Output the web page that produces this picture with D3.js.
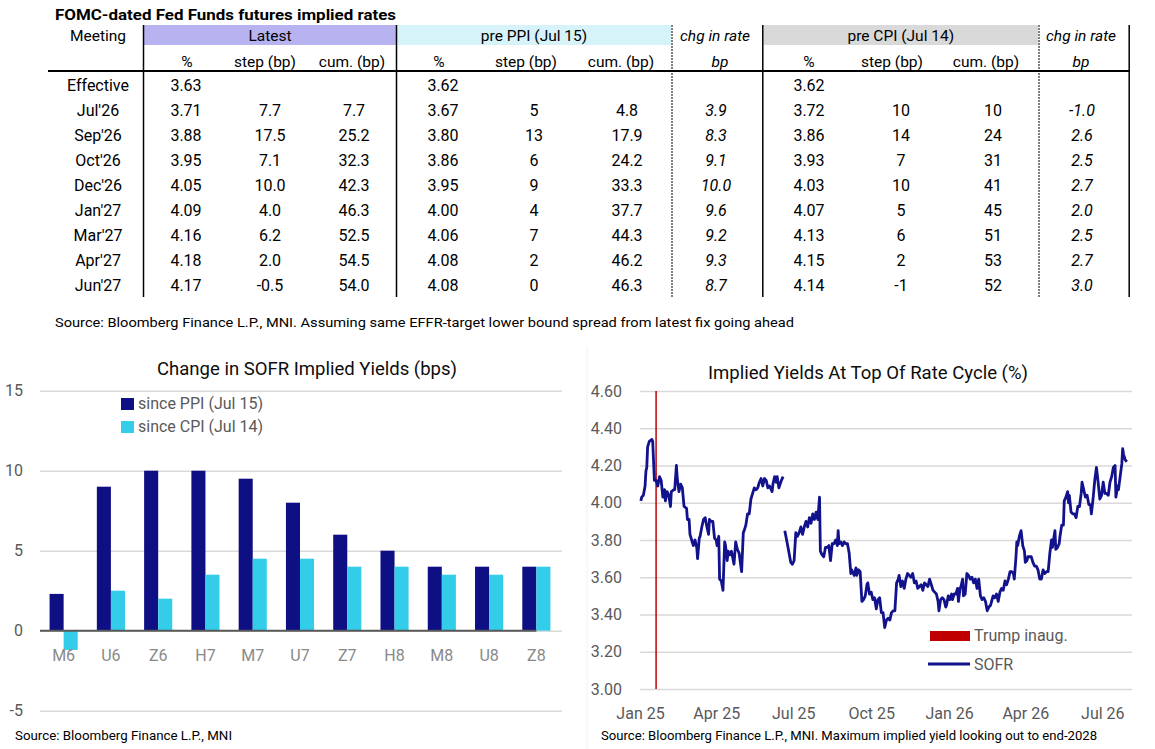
<!DOCTYPE html>
<html>
<head>
<meta charset="utf-8">
<script src="https://cdn.jsdelivr.net/npm/d3@7"></script>
<style>
  body { margin: 0; background: #fff; }
  svg { display: block; }
  text { font-family: Roboto, "Liberation Sans", sans-serif; }
</style>
</head>
<body>
<svg id="chart" width="1155" height="749"></svg>
<script>
// ---------------- table data ----------------
const tableTitle = "FOMC-dated Fed Funds futures implied rates";
const meetings = ["Effective", "Jul'26", "Sep'26", "Oct'26", "Dec'26", "Jan'27", "Mar'27", "Apr'27", "Jun'27"];
const groupHeaders = ["Latest", "pre PPI (Jul 15)", "pre CPI (Jul 14)"];
const subHeaders = ["%", "step (bp)", "cum. (bp)"];
const chgHeaders = ["chg in rate", "bp"];

const latestPct  = [3.63, 3.71, 3.88, 3.95, 4.05, 4.09, 4.16, 4.18, 4.17];
const latestStep = [null, 7.7, 17.5, 7.1, 10.0, 4.0, 6.2, 2.0, -0.5];
const latestCum  = [null, 7.7, 25.2, 32.3, 42.3, 46.3, 52.5, 54.5, 54.0];
const ppiPct  = [3.62, 3.67, 3.80, 3.86, 3.95, 4.00, 4.06, 4.08, 4.08];
const ppiStep = [null, 5, 13, 6, 9, 4, 7, 2, 0];
const ppiCum  = [null, 4.8, 17.9, 24.2, 33.3, 37.7, 44.3, 46.2, 46.3];
const ppiChg  = [null, 3.9, 8.3, 9.1, 10.0, 9.6, 9.2, 9.3, 8.7];
const cpiPct  = [3.62, 3.72, 3.86, 3.93, 4.03, 4.07, 4.13, 4.15, 4.14];
const cpiStep = [null, 10, 14, 7, 10, 5, 6, 2, -1];
const cpiCum  = [null, 10, 24, 31, 41, 45, 51, 53, 52];
const cpiChg  = [null, -1.0, 2.6, 2.5, 2.7, 2.0, 2.5, 2.7, 3.0];
const tableSource = "Source: Bloomberg Finance L.P., MNI. Assuming same  EFFR-target lower bound spread from latest fix going ahead";

// ---------------- bar chart data ----------------
const barTitle = "Change in SOFR Implied Yields (bps)";
const contracts = ["M6", "U6", "Z6", "H7", "M7", "U7", "Z7", "H8", "M8", "U8", "Z8"];
const barSeries = ["since PPI (Jul 15)", "since CPI (Jul 14)"];
const sincePPI = [2.3, 9.0, 10.0, 10.0, 9.5, 8.0, 6.0, 5.0, 4.0, 4.0, 4.0];
const sinceCPI = [-1.2, 2.5, 2.0, 3.5, 4.5, 4.5, 4.0, 4.0, 3.5, 3.5, 4.0];
const barTicks = [-5, 0, 5, 10, 15];
const barSource = "Source: Bloomberg Finance L.P., MNI";

// ---------------- line chart data ----------------
const lineTitle = "Implied Yields At Top Of Rate Cycle (%)";
const yieldTicks = [3.0, 3.2, 3.4, 3.6, 3.8, 4.0, 4.2, 4.4, 4.6];
const dateTicks = ["2025-01-01", "2025-04-01", "2025-07-01", "2025-10-01", "2026-01-01", "2026-04-01", "2026-07-01"];
const trumpInaug = "2025-01-20";
const lineLegend = ["Trump inaug.", "SOFR"];
const lineSource = "Source: Bloomberg Finance L.P., MNI. Maximum implied yield looking out to end-2028";

const sofrDates = [
  "2025-01-02","2025-01-03","2025-01-05","2025-01-07","2025-01-08","2025-01-09","2025-01-10","2025-01-12","2025-01-15","2025-01-16","2025-01-18","2025-01-20","2025-01-22","2025-01-24","2025-01-26","2025-01-28","2025-01-30","2025-01-31",
  "2025-02-02","2025-02-04","2025-02-06","2025-02-07","2025-02-10","2025-02-11","2025-02-13","2025-02-14","2025-02-16","2025-02-18","2025-02-20","2025-02-22","2025-02-25","2025-02-26","2025-02-28",
  "2025-03-01","2025-03-03","2025-03-05","2025-03-07","2025-03-09","2025-03-10","2025-03-12","2025-03-13","2025-03-15","2025-03-17","2025-03-19","2025-03-21","2025-03-23","2025-03-24","2025-03-26","2025-03-28","2025-03-30",
  "2025-04-01","2025-04-02","2025-04-04","2025-04-05","2025-04-07","2025-04-09","2025-04-11","2025-04-12","2025-04-14","2025-04-15","2025-04-17","2025-04-19","2025-04-22","2025-04-24","2025-04-26","2025-04-28",
  "2025-05-01","2025-05-03","2025-05-04","2025-05-06","2025-05-08","2025-05-10","2025-05-12","2025-05-14","2025-05-16","2025-05-18","2025-05-20","2025-05-22","2025-05-24","2025-05-26","2025-05-28","2025-05-30",
  "2025-06-01","2025-06-03","2025-06-06","2025-06-07","2025-06-09","2025-06-11","2025-06-12","2025-06-14","2025-06-17","2025-06-19","2025-06-20","2025-06-21","2025-06-24","2025-06-26","2025-06-28","2025-06-30",
  "2025-07-02","2025-07-04","2025-07-06","2025-07-08","2025-07-10","2025-07-12","2025-07-14","2025-07-16","2025-07-18","2025-07-20","2025-07-22","2025-07-24","2025-07-26","2025-07-28","2025-07-30",
  "2025-08-01","2025-08-02","2025-08-04","2025-08-06","2025-08-08","2025-08-10","2025-08-12","2025-08-14","2025-08-16","2025-08-18","2025-08-20","2025-08-22","2025-08-23","2025-08-24","2025-08-26","2025-08-28","2025-08-30",
  "2025-09-01","2025-09-03","2025-09-05","2025-09-07","2025-09-08","2025-09-11","2025-09-13","2025-09-14","2025-09-16","2025-09-18","2025-09-20","2025-09-22","2025-09-24","2025-09-26","2025-09-27","2025-09-29",
  "2025-10-01","2025-10-03","2025-10-05","2025-10-07","2025-10-09","2025-10-11","2025-10-13","2025-10-15","2025-10-17","2025-10-19","2025-10-21","2025-10-23","2025-10-25","2025-10-27","2025-10-29","2025-10-31",
  "2025-11-02","2025-11-03","2025-11-05","2025-11-07","2025-11-09","2025-11-11","2025-11-13","2025-11-15","2025-11-17","2025-11-19","2025-11-21","2025-11-23","2025-11-25","2025-11-27","2025-11-29",
  "2025-12-01","2025-12-03","2025-12-05","2025-12-07","2025-12-09","2025-12-11","2025-12-13","2025-12-15","2025-12-17","2025-12-19","2025-12-20","2025-12-22","2025-12-24","2025-12-26","2025-12-28","2025-12-29","2025-12-31",
  "2026-01-02","2026-01-04","2026-01-05","2026-01-07","2026-01-09","2026-01-11","2026-01-12","2026-01-14","2026-01-15","2026-01-17","2026-01-18","2026-01-20","2026-01-22","2026-01-24","2026-01-26","2026-01-28","2026-01-30",
  "2026-02-01","2026-02-03","2026-02-05","2026-02-07","2026-02-09","2026-02-11","2026-02-13","2026-02-15","2026-02-17","2026-02-19","2026-02-22","2026-02-24","2026-02-26","2026-02-28",
  "2026-03-02","2026-03-04","2026-03-06","2026-03-08","2026-03-10","2026-03-12","2026-03-14","2026-03-16","2026-03-18","2026-03-19","2026-03-21","2026-03-22","2026-03-23","2026-03-25","2026-03-27","2026-03-29","2026-03-31",
  "2026-04-01","2026-04-03","2026-04-04","2026-04-06","2026-04-08","2026-04-10","2026-04-12","2026-04-14","2026-04-16","2026-04-18","2026-04-20","2026-04-22","2026-04-24","2026-04-26","2026-04-28","2026-04-30",
  "2026-05-02","2026-05-03","2026-05-05","2026-05-06","2026-05-07","2026-05-09","2026-05-11","2026-05-12","2026-05-14","2026-05-16","2026-05-17","2026-05-19","2026-05-21","2026-05-22","2026-05-23","2026-05-25","2026-05-27","2026-05-29","2026-05-31",
  "2026-06-02","2026-06-04","2026-06-06","2026-06-07","2026-06-09","2026-06-11","2026-06-13","2026-06-15","2026-06-17","2026-06-18","2026-06-20","2026-06-22","2026-06-24","2026-06-26","2026-06-28","2026-06-30",
  "2026-07-02","2026-07-04","2026-07-06","2026-07-08","2026-07-10","2026-07-12","2026-07-14","2026-07-16","2026-07-17","2026-07-19","2026-07-20","2026-07-22","2026-07-24","2026-07-25","2026-07-26","2026-07-28","2026-07-30"
];
const sofrValues = [
  4.01,4.03,4.04,4.09,4.17,4.19,4.30,4.33,4.34,4.33,4.12,4.12,4.09,4.14,4.12,4.03,4.07,4.01,
  4.06,4.04,3.98,4.06,4.07,4.07,4.20,4.13,4.06,4.10,4.08,3.98,3.97,3.91,3.91,
  3.83,3.80,3.77,3.80,3.76,3.70,3.81,3.82,3.87,3.91,3.92,3.87,3.83,3.91,3.90,3.90,3.81,
  3.80,3.77,3.82,3.59,3.58,3.53,3.79,3.77,3.69,3.74,3.72,3.74,3.67,3.79,3.75,3.73,
  3.63,3.84,3.85,3.88,3.94,3.94,4.02,4.05,4.08,4.07,4.08,4.11,4.13,4.09,4.13,4.12,
  4.08,4.09,4.06,4.10,4.14,4.11,4.14,4.08,4.12,4.14,null,3.85,3.78,3.73,3.68,3.67,
  3.69,3.84,3.82,3.84,3.87,3.83,3.87,3.90,3.87,3.92,3.89,3.94,3.91,3.95,3.91,
  4.03,3.74,3.72,3.71,3.76,3.76,3.77,3.69,3.78,3.78,3.80,3.77,3.85,3.78,3.79,3.77,3.79,
  3.78,3.78,3.73,3.62,3.64,3.61,3.65,3.61,3.64,3.63,3.47,3.48,3.50,3.56,3.57,3.51,
  3.52,3.48,3.49,3.43,3.48,3.49,3.41,3.41,3.33,3.37,3.38,3.37,3.41,3.42,3.42,3.57,
  3.59,3.61,3.55,3.58,3.54,3.59,3.62,3.61,3.60,3.62,3.57,3.58,3.54,3.55,3.56,
  3.53,3.57,3.56,3.55,3.59,3.56,3.53,3.52,3.51,3.47,3.42,3.48,3.49,3.48,3.44,3.45,3.50,
  3.48,3.51,3.48,3.51,3.51,3.54,3.47,3.54,3.55,3.59,3.50,3.51,3.62,3.61,3.59,3.60,3.57,
  3.59,3.54,3.59,3.50,3.48,3.49,3.47,3.42,3.44,3.45,3.50,3.49,3.51,3.47,
  3.52,3.54,3.53,3.58,3.56,3.59,3.63,3.63,3.62,3.59,3.71,3.79,3.77,3.82,3.85,3.77,3.74,
  3.68,3.69,3.71,3.71,3.71,3.68,3.66,3.66,3.64,3.59,3.59,3.64,3.62,3.63,3.63,3.73,
  3.80,3.76,3.82,3.85,3.75,3.76,3.78,3.82,3.88,3.88,4.01,4.03,4.06,4.00,4.04,3.95,3.94,3.94,3.92,
  3.98,3.98,4.05,4.11,4.07,4.03,4.04,3.99,3.99,3.94,4.02,4.12,4.19,4.11,4.02,4.04,
  4.11,4.05,4.05,4.04,4.11,4.14,4.19,4.20,4.03,4.09,4.07,4.14,4.21,4.29,4.26,4.23,4.22
];

const svg = d3.select("#chart");
const parseDate = d3.timeParse("%Y-%m-%d");
const fix = n => v => (v == null ? "" : v.toFixed(n));

// =============== TABLE ===============
const tbl = svg.append("g");

tbl.append("text")
  .attr("x", 55).attr("y", 20)
  .attr("font-size", 14.5).attr("font-weight", "bold")
  .attr("textLength", 341).attr("lengthAdjust", "spacingAndGlyphs")
  .text(tableTitle);

// coloured group header bands
const groups = [
  { label: groupHeaders[0], x0: 144, x1: 396, fill: "#b7b3f1" },
  { label: groupHeaders[1], x0: 397, x1: 671, fill: "#d5f3f9" },
  { label: groupHeaders[2], x0: 763.5, x1: 1038, fill: "#d9d9d9" }
];
tbl.selectAll("rect.band").data(groups).join("rect")
  .attr("x", d => d.x0).attr("y", 25)
  .attr("width", d => d.x1 - d.x0).attr("height", 20)
  .attr("fill", d => d.fill);
tbl.selectAll("text.group").data(groups).join("text")
  .attr("x", d => (d.x0 + d.x1) / 2).attr("y", 41)
  .attr("text-anchor", "middle").attr("font-size", 15.5)
  .text(d => d.label);

tbl.append("text").attr("x", 98).attr("y", 41)
  .attr("text-anchor", "middle").attr("font-size", 15.5).text("Meeting");
[715, 1081].forEach(x => {
  tbl.append("text").attr("x", x).attr("y", 41)
    .attr("text-anchor", "middle").attr("font-size", 15.5).attr("font-style", "italic")
    .text(chgHeaders[0]);
});

const columns = [
  { vals: latestPct,  fmt: fix(2), x: 186,  hx: 187, head: subHeaders[0] },
  { vals: latestStep, fmt: fix(1), x: 270,  hx: 265, head: subHeaders[1] },
  { vals: latestCum,  fmt: fix(1), x: 354,  hx: 352, head: subHeaders[2] },
  { vals: ppiPct,     fmt: fix(2), x: 443,  hx: 439, head: subHeaders[0] },
  { vals: ppiStep,    fmt: fix(0), x: 534,  hx: 526, head: subHeaders[1] },
  { vals: ppiCum,     fmt: fix(1), x: 627,  hx: 621, head: subHeaders[2] },
  { vals: ppiChg,     fmt: fix(1), x: 716,  hx: 720, head: chgHeaders[1], italic: true },
  { vals: cpiPct,     fmt: fix(2), x: 809,  hx: 809, head: subHeaders[0] },
  { vals: cpiStep,    fmt: fix(0), x: 901,  hx: 892, head: subHeaders[1] },
  { vals: cpiCum,     fmt: fix(0), x: 993,  hx: 986, head: subHeaders[2] },
  { vals: cpiChg,     fmt: fix(1), x: 1082, hx: 1081, head: chgHeaders[1], italic: true }
];

const rowY = d3.scalePoint().domain(meetings).range([90.7, 290.7]);

tbl.selectAll("text.sub").data(columns).join("text")
  .attr("x", d => d.hx).attr("y", 66.5)
  .attr("text-anchor", "middle").attr("font-size", 15.5)
  .attr("font-style", d => d.italic ? "italic" : "normal")
  .text(d => d.head);

tbl.selectAll("text.meeting").data(meetings).join("text")
  .attr("x", 98).attr("y", d => rowY(d))
  .attr("text-anchor", "middle").attr("font-size", 16)
  .text(d => d);

columns.forEach(col => {
  tbl.append("g").selectAll("text").data(col.vals).join("text")
    .attr("x", col.x).attr("y", (d, i) => rowY(meetings[i]))
    .attr("text-anchor", "middle").attr("font-size", 16)
    .attr("font-style", col.italic ? "italic" : "normal")
    .text(d => col.fmt(d));
});

// rules
tbl.append("line").attr("x1", 48).attr("x2", 1130).attr("y1", 71).attr("y2", 71)
  .attr("stroke", "#000").attr("stroke-width", 2);
tbl.selectAll("line.solid").data([143.5, 396.5, 762.8, 1129.2]).join("line")
  .attr("x1", d => d).attr("x2", d => d).attr("y1", 25).attr("y2", 297)
  .attr("stroke", "#000").attr("stroke-width", 1.5);
tbl.selectAll("line.dash").data([672, 1039]).join("line")
  .attr("x1", d => d).attr("x2", d => d).attr("y1", 25).attr("y2", 297)
  .attr("stroke", "#000").attr("stroke-width", 1).attr("stroke-dasharray", "2,1");

tbl.append("text").attr("x", 55).attr("y", 327).attr("font-size", 13)
  .attr("textLength", 739).attr("lengthAdjust", "spacingAndGlyphs")
  .text(tableSource);

// =============== BAR CHART ===============
const bar = svg.append("g");
const bx0 = d3.scaleBand().domain(contracts).range([40, 560]).paddingInner(0.405).paddingOuter(0.2025);
const bx1 = d3.scaleBand().domain(barSeries).range([0, bx0.bandwidth()]);
const by = d3.scaleLinear().domain([-5, 15]).range([710.7, 390.7]);
const barColor = d3.scaleOrdinal().domain(barSeries).range(["#0f0f84", "#33cdea"]);

bar.append("text").attr("x", 307).attr("y", 375)
  .attr("text-anchor", "middle").attr("font-size", 18).attr("fill", "#0d0d0d")
  .attr("textLength", 300).attr("lengthAdjust", "spacingAndGlyphs")
  .text(barTitle);

const barYAxis = bar.append("g").attr("transform", "translate(40,0)")
  .call(d3.axisLeft(by).tickValues(barTicks).tickSize(-522).tickPadding(17).tickFormat(d => String(d)));
barYAxis.select(".domain").remove();
barYAxis.selectAll("line").attr("stroke", "#d9d9d9").attr("stroke-width", 1.5);
barYAxis.selectAll("text").attr("font-size", 16).attr("fill", "#595959")
  .style("font-family", "Roboto, 'Liberation Sans', sans-serif");

const barRows = contracts.map((c, i) => ({ c, vals: [sincePPI[i], sinceCPI[i]] }));
bar.append("g").selectAll("g").data(barRows).join("g")
  .attr("transform", d => `translate(${bx0(d.c)},0)`)
  .selectAll("rect").data(d => barSeries.map((s, j) => ({ s, v: d.vals[j] }))).join("rect")
  .attr("x", d => bx1(d.s))
  .attr("width", bx1.bandwidth())
  .attr("y", d => by(Math.max(0, d.v)))
  .attr("height", d => Math.abs(by(d.v) - by(0)))
  .attr("fill", d => barColor(d.s));

// zero axis line
bar.append("line").attr("x1", 40).attr("x2", bx0("Z8") + bx1(barSeries[1]))
  .attr("y1", by(0)).attr("y2", by(0))
  .attr("stroke", "#595959").attr("stroke-width", 2);

const barXAxis = bar.append("g").attr("transform", `translate(0,${by(0)})`)
  .call(d3.axisBottom(bx0).tickSize(0).tickPadding(19));
barXAxis.select(".domain").remove();
barXAxis.selectAll("text").attr("font-size", 16).attr("fill", "#898989")
  .style("font-family", "Roboto, 'Liberation Sans', sans-serif");

// legend
const barLeg = bar.append("g");
barSeries.forEach((s, i) => {
  barLeg.append("rect").attr("x", 121).attr("y", 398 + i * 23).attr("width", 13).attr("height", 12)
    .attr("fill", barColor(s));
  barLeg.append("text").attr("x", 138).attr("y", 409 + i * 23)
    .attr("font-size", 16).attr("fill", "#595959")
    .attr("textLength", 125).attr("lengthAdjust", "spacingAndGlyphs")
    .text(s);
});

bar.append("text").attr("x", 15).attr("y", 740).attr("font-size", 13.5)
  .attr("textLength", 217).attr("lengthAdjust", "spacingAndGlyphs")
  .text(barSource);

// =============== LINE CHART ===============
const lc = svg.append("g");
lc.append("line").attr("x1", 587).attr("x2", 587).attr("y1", 346).attr("y2", 749)
  .attr("stroke", "#f2f2f2").attr("stroke-width", 1);

const lx = d3.scaleTime().domain([parseDate("2025-01-01"), parseDate("2026-08-05")]).range([640, 1132]);
const ly = d3.scaleLinear().domain([3.0, 4.6]).range([689, 391]);

lc.append("text").attr("x", 868).attr("y", 379)
  .attr("text-anchor", "middle").attr("font-size", 18).attr("fill", "#0d0d0d")
  .attr("textLength", 320).attr("lengthAdjust", "spacingAndGlyphs")
  .text(lineTitle);

const lineYAxis = lc.append("g").attr("transform", "translate(640,0)")
  .call(d3.axisLeft(ly).tickValues(yieldTicks).tickSize(-492).tickPadding(18).tickFormat(d3.format(".2f")));
lineYAxis.select(".domain").remove();
lineYAxis.selectAll("line").attr("stroke", "#d9d9d9").attr("stroke-width", 1.5);
lineYAxis.selectAll("text").attr("font-size", 16).attr("fill", "#595959")
  .style("font-family", "Roboto, 'Liberation Sans', sans-serif");

const lineXAxis = lc.append("g").attr("transform", "translate(0,689)")
  .call(d3.axisBottom(lx).tickValues(dateTicks.map(parseDate)).tickSize(0).tickPadding(19)
    .tickFormat(d3.timeFormat("%b %y")));
lineXAxis.select(".domain").remove();
lineXAxis.selectAll("text").attr("font-size", 16).attr("fill", "#595959")
  .style("font-family", "Roboto, 'Liberation Sans', sans-serif");

// inauguration marker
lc.append("line")
  .attr("x1", lx(parseDate(trumpInaug))).attr("x2", lx(parseDate(trumpInaug)))
  .attr("y1", ly(4.6)).attr("y2", ly(3.0))
  .attr("stroke", "#c00000").attr("stroke-width", 1.5);

const sofr = sofrDates.map((d, i) => ({ date: parseDate(d), v: sofrValues[i] }));
const sofrLine = d3.line()
  .defined(d => d.v != null)
  .x(d => lx(d.date))
  .y(d => ly(d.v));
lc.append("path").datum(sofr)
  .attr("d", sofrLine)
  .attr("fill", "none").attr("stroke", "#12128c").attr("stroke-width", 2.8)
  .attr("stroke-linejoin", "round");

// legend
lc.append("rect").attr("x", 930).attr("y", 631).attr("width", 40).attr("height", 10).attr("fill", "#c00000");
lc.append("text").attr("x", 974).attr("y", 641).attr("font-size", 16).attr("fill", "#595959").text(lineLegend[0]);
lc.append("line").attr("x1", 928).attr("x2", 970).attr("y1", 664).attr("y2", 664)
  .attr("stroke", "#12128c").attr("stroke-width", 3);
lc.append("text").attr("x", 974).attr("y", 670).attr("font-size", 16).attr("fill", "#595959").text(lineLegend[1]);

lc.append("text").attr("x", 601).attr("y", 740).attr("font-size", 13.5)
  .attr("textLength", 496).attr("lengthAdjust", "spacingAndGlyphs")
  .text(lineSource);
</script>
</body>
</html>
